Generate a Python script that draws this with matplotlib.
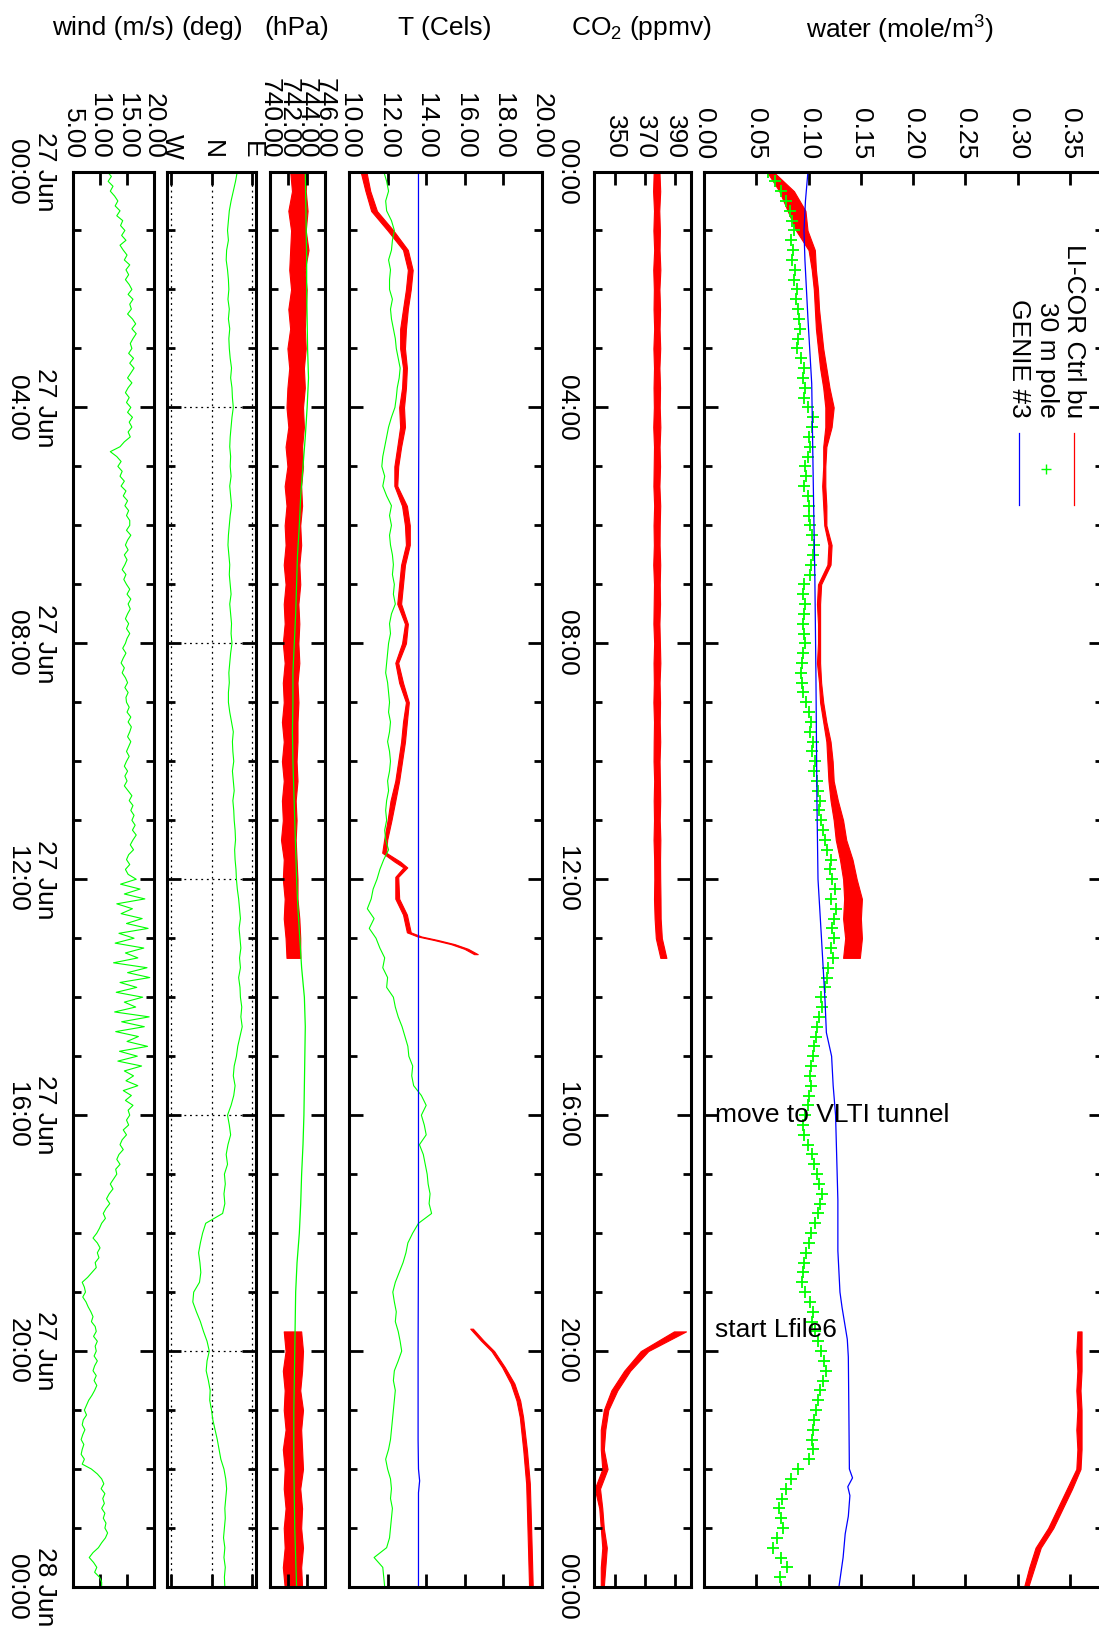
import numpy as np
import matplotlib
matplotlib.use('Agg')
import matplotlib.pyplot as plt
from matplotlib.ticker import FixedLocator, MultipleLocator

plt.rcParams['font.family'] = ['Liberation Sans', 'DejaVu Sans']
plt.rcParams['mathtext.default'] = 'regular'

# ------------------------------------------------------------------ data
# time axis in hours since 27 Jun 00:00
time_major = [0, 4, 8, 12, 16, 20, 24]
wind_time_labels = ['27 Jun\n00:00', '27 Jun\n04:00', '27 Jun\n08:00', '27 Jun\n12:00',
                    '27 Jun\n16:00', '27 Jun\n20:00', '28 Jun\n00:00']
co2_time_labels = ['00:00', '04:00', '08:00', '12:00', '16:00', '20:00', '00:00']

# value-axis ticks and labels
wind_ticks = [5, 10, 15, 20]
wind_ticklabels = ['5.00', '10.00', '15.00', '20.00']
deg_ticks = [270, 360, 450]
deg_ticklabels = ['W', 'N', 'E']
hpa_ticks = [740, 742, 744, 746]
hpa_ticklabels = ['740.00', '742.00', '744.00', '746.00']
temp_ticks = [10, 12, 14, 16, 18, 20]
temp_ticklabels = ['10.00', '12.00', '14.00', '16.00', '18.00', '20.00']
co2_ticks = [350, 370, 390]
co2_ticklabels = ['350', '370', '390']
water_ticks = [0.0, 0.05, 0.10, 0.15, 0.20, 0.25, 0.30, 0.35]
water_ticklabels = ['0.00', '0.05', '0.10', '0.15', '0.20', '0.25', '0.30', '0.35']

# sample times: 10-minute and 5-minute series, LI-COR segments
t10 = np.arange(145) / 6.0
t5 = np.arange(289) / 12.0
licor_t1 = np.arange(41) / 3.0                 # 00:00 .. 13:20
licor_t2 = np.arange(59, 73) / 3.0             # 19:40 .. 24:00

# ---- wind speed (m/s), 5-min
wind = [
    11.4, 12.2, 11.6, 12.5, 12.0, 12.8, 13.4, 12.9, 13.8, 13.2, 14.3, 13.9,
    14.7, 14.1, 14.9, 13.8, 14.4, 15.1, 14.6, 15.6, 14.9, 15.4, 14.8, 15.5,
    16.0, 15.3, 16.2, 15.6, 15.9, 15.2, 16.1, 16.7, 16.0, 16.8, 16.2, 15.7,
    16.0, 15.4, 16.3, 15.6, 16.4, 15.8, 15.2, 16.0, 15.3, 14.8, 15.5, 15.0,
    15.8, 15.2, 16.1, 15.5, 16.0, 15.3, 15.7, 14.6, 13.8, 12.0, 13.2, 14.0,
    13.4, 14.2, 13.8, 14.6, 14.0, 14.9, 14.4, 15.2, 14.7, 15.4, 15.0, 15.6,
    15.6, 15.0, 15.8, 15.2, 14.8, 15.3, 14.6, 15.1, 14.7, 14.2, 14.9, 14.5,
    15.0, 15.6, 15.1, 15.8, 15.3, 15.7, 15.2, 14.8, 15.4, 15.0, 15.6, 15.1,
    14.8, 14.3, 14.9, 14.4, 14.0, 14.6, 14.2, 14.8, 15.2, 14.7, 15.3, 14.9,
    15.0, 15.5, 15.1, 15.8, 15.3, 15.9, 15.6, 15.2, 15.8, 15.4, 15.0, 15.5,
    15.0, 14.6, 15.2, 14.7, 15.1, 14.6, 15.3, 16.0, 15.5, 16.2, 15.8, 16.4,
    16.0, 16.6, 16.1, 16.8, 16.2, 15.7, 16.3, 15.4, 15.0, 15.6, 14.8, 15.3,
    16.8, 13.9, 17.5, 14.6, 18.4, 13.2, 16.1, 14.0, 17.9, 15.0, 19.0, 13.6,
    16.4, 12.9, 18.2, 14.8, 17.1, 12.6, 18.8, 15.2, 19.3, 13.8, 16.9, 13.1,
    18.0, 14.6, 16.7, 12.8, 19.2, 14.1, 18.3, 13.0, 17.2, 15.1, 18.9, 13.7,
    17.0, 13.4, 17.8, 14.6, 16.3, 14.9, 17.1, 14.4, 15.9, 14.8, 16.2, 15.3,
    15.6, 15.0, 15.4, 14.4, 15.0, 14.2, 13.8, 14.4, 13.6, 13.2, 13.8, 13.0,
    13.2, 12.6, 12.0, 12.5, 11.8, 11.3, 11.9, 11.2, 10.7, 11.1, 10.4, 10.0,
    9.5, 8.8, 9.6, 10.1, 9.6, 9.9, 9.2, 9.4, 8.6, 7.8, 6.8, 7.2,
    7.4, 6.9, 7.5, 7.9, 8.4, 8.8, 8.5, 9.2, 9.4, 8.9, 9.6, 9.2,
    9.4, 9.0, 9.6, 9.1, 8.8, 9.4, 9.0, 9.5, 9.1, 8.6, 8.0, 7.6,
    7.2, 7.6, 7.0, 6.8, 7.3, 6.9, 6.6, 7.1, 6.8, 6.6, 7.2, 6.8,
    8.5, 9.6, 10.4, 10.8, 10.3, 11.0, 10.6, 10.9, 10.4, 11.0, 10.7, 11.2,
    11.0, 11.5, 11.1, 10.4, 9.8, 8.8, 8.1, 8.9, 9.5, 9.1, 10.0, 10.4,
    10.4]

# ---- wind direction (deg, N=360, E=450), 10-min
wind_dir = [
    418, 414, 409, 404, 400, 398,
    396, 398, 394, 393, 396, 398,
    399, 397, 400, 398, 401, 399,
    400, 402, 405, 403, 406, 407,
    409, 406, 404, 402, 401, 403,
    402, 404, 401, 403, 405, 402,
    400, 398, 397, 399, 401, 400,
    402, 404, 401, 403, 405, 404,
    406, 403, 401, 399, 400, 398,
    398, 401, 405, 409, 407, 408,
    410, 407, 409, 411, 408, 410,
    411, 413, 414, 412, 413, 415,
    416, 418, 421, 423, 425, 422,
    424, 426, 423, 425, 421, 424,
    425, 428, 426, 429, 424, 419,
    416, 411, 409, 413, 410, 404,
    396, 400, 403, 397, 393, 396,
    389, 391, 388, 390, 385, 347,
    340, 335, 331, 334, 336, 333,
    320, 318, 326, 335, 342, 350,
    355, 350, 348, 353, 357, 356,
    360, 363, 368, 373, 377, 381,
    388, 392, 394, 392, 390, 391,
    389, 387, 390, 388, 391, 389,
    390]

# ---- pressure (hPa): GENIE, 30-min
hpa_genie_t = np.arange(49) / 2.0
hpa_genie = [743.85, 743.9, 743.95, 744.0, 744.0, 744.05, 744.1, 744.2, 744.05, 743.85,
             743.6, 743.35, 743.2, 743.0, 742.9, 742.8, 742.65, 742.5, 742.5, 742.45,
             742.5, 742.6, 742.7, 742.8, 742.9, 743.05, 743.25, 743.45, 743.75, 743.85,
             743.8, 743.75, 743.7, 743.6, 743.45, 743.35, 743.2, 742.95, 742.8, 742.75,
             742.7, 742.65, 742.6, 742.6, 742.6, 742.65, 742.7, 742.8, 742.9]
# LI-COR pressure band (low / high envelope)
hpa_licor1_lo = [742.2, 742.4, 742.0, 742.3, 742.2, 742.1, 742.3, 742.0, 742.2, 741.9,
                 742.1, 741.9, 741.8, 742.0, 741.7, 741.9, 741.6, 741.8, 741.6, 741.7,
                 741.5, 741.7, 741.5, 741.6, 741.4, 741.6, 741.4, 741.5, 741.3, 741.5,
                 741.3, 741.5, 741.3, 741.4, 741.2, 741.5, 741.4, 741.6, 741.5, 741.7, 741.8]
hpa_licor1_hi = [744.0, 743.9, 744.1, 743.9, 744.2, 743.8, 744.0, 743.9, 743.8, 743.9,
                 743.7, 743.8, 743.6, 743.7, 743.5, 743.6, 743.4, 743.5, 743.3, 743.4,
                 743.2, 743.3, 743.1, 743.2, 743.1, 743.2, 743.0, 743.1, 743.0, 743.0,
                 742.9, 743.0, 742.8, 742.9, 742.8, 742.9, 743.0, 743.0, 743.2, 743.3, 743.3]
hpa_licor2_lo = [741.5, 741.7, 741.4, 741.6, 741.5, 741.7, 741.4, 741.6, 741.5, 741.7,
                 741.5, 741.6, 741.4, 741.6]
hpa_licor2_hi = [743.4, 743.6, 743.5, 743.3, 743.6, 743.4, 743.5, 743.6, 743.3, 743.5,
                 743.4, 743.6, 743.4, 743.5]

# ---- temperature (Cels)
temp_genie_t = [0, 2, 4, 6, 8, 10, 12, 14, 16, 18, 20, 21.5, 22.0, 22.2, 22.4, 23, 24]
temp_genie = [13.6, 13.6, 13.62, 13.6, 13.62, 13.6, 13.6, 13.6, 13.6, 13.6, 13.58,
              13.58, 13.6, 13.66, 13.6, 13.6, 13.6]
temp_pole = [
    11.80, 11.95, 12.05, 11.90, 11.95, 12.20,
    12.35, 12.25, 12.20, 12.05, 12.15, 12.10,
    12.10, 12.25, 12.15, 12.20, 12.30, 12.40,
    12.45, 12.55, 12.65, 12.60, 12.50, 12.45,
    12.38, 12.20, 12.05, 11.95, 11.85, 11.75,
    11.70, 11.85, 11.75, 11.95, 12.20, 12.10,
    12.20, 12.10, 12.15, 12.25, 12.30, 12.25,
    12.35, 12.30, 12.40, 12.20, 12.10, 12.15,
    12.05, 12.00, 11.95, 11.90, 12.00, 12.05,
    12.10, 12.05, 12.15, 12.10, 12.00, 12.10,
    12.15, 12.10, 12.00, 12.05, 11.95, 11.90,
    11.95, 11.85, 11.90, 12.05, 11.80, 11.60,
    11.45, 11.25, 11.15, 10.95, 11.30, 11.05,
    11.40, 11.60, 11.85, 11.75, 12.00, 11.95,
    12.30, 12.40, 12.55, 12.75, 12.90, 13.05,
    13.10, 13.30, 13.25, 13.35, 13.75, 14.00,
    13.75, 13.90, 14.00, 13.65, 13.85, 13.95,
    14.05, 14.10, 14.20, 14.15, 14.28, 13.60,
    13.30, 13.05, 12.95, 12.80, 12.60, 12.40,
    12.27, 12.35, 12.45, 12.40, 12.55, 12.65,
    12.73, 12.55, 12.35, 12.30, 12.40, 12.35,
    12.30, 12.25, 12.20, 12.15, 12.05, 11.90,
    12.00, 12.15, 12.20, 12.15, 12.25, 12.20,
    12.15, 12.10, 11.95, 11.30, 11.75, 11.80,
    11.85]
temp_licor1_t = [0.0, 0.33, 0.67, 1.0, 1.33, 1.67, 2.0, 2.33, 2.67, 3.0, 3.33, 3.67, 4.0,
                 4.33, 4.67, 5.0, 5.33, 5.67, 6.0, 6.33, 6.67, 7.0, 7.33, 7.67, 8.0, 8.33,
                 8.67, 9.0, 9.33, 9.67, 10.0, 10.33, 10.67, 11.0, 11.33, 11.55, 11.7, 11.8,
                 11.96, 12.33, 12.6, 12.9, 12.97, 13.03, 13.1, 13.18, 13.27]
temp_licor1_lo = [10.6, 10.85, 11.15, 12.0, 12.8, 13.05, 12.95, 12.8, 12.65, 12.65, 12.8,
                  12.75, 12.6, 12.65, 12.5, 12.35, 12.35, 12.75, 12.9, 12.95, 12.7, 12.6,
                  12.5, 12.9, 12.75, 12.4, 12.6, 12.95, 12.8, 12.7, 12.55, 12.4, 12.15,
                  12.0, 11.82, 11.72, 12.35, 12.82, 12.4, 12.4, 12.8, 13.0, 13.55, 14.4,
                  15.28, 15.98, 16.48]
temp_licor1_hi = [10.9, 11.1, 11.45, 12.3, 13.05, 13.3, 13.2, 13.05, 12.95, 12.9, 13.0,
                  12.95, 12.85, 12.9, 12.7, 12.55, 12.5, 13.0, 13.15, 13.15, 12.9, 12.8,
                  12.7, 13.05, 12.95, 12.55, 12.8, 13.1, 13.0, 12.9, 12.75, 12.6, 12.4,
                  12.2, 11.98, 11.92, 12.65, 13.02, 12.55, 12.6, 13.0, 13.2, 13.75, 14.6,
                  15.47, 16.17, 16.67]
temp_licor2_t = [19.62, 19.82, 20.0, 20.27, 20.55, 20.84, 21.12, 21.68, 22.25, 22.81, 23.4, 24.0]
temp_licor2_lo = [16.28, 16.83, 17.38, 17.93, 18.38, 18.68, 18.85, 19.03, 19.18, 19.23, 19.28, 19.33]
temp_licor2_hi = [16.42, 16.97, 17.52, 18.07, 18.57, 18.87, 19.02, 19.22, 19.37, 19.42, 19.47, 19.52]

# ---- CO2 (ppmv), LI-COR band
co2_licor1_lo = [375.6, 375.2, 375.8, 375.4, 375.9, 375.3, 375.7, 375.5, 375.9, 375.4,
                 375.8, 375.5, 375.7, 375.3, 375.8, 375.6, 375.4, 375.9, 375.5, 375.7,
                 375.3, 375.8, 375.6, 375.4, 375.9, 375.5, 375.7, 375.4, 375.8, 375.6,
                 375.5, 375.9, 375.6, 375.8, 375.5, 375.9, 376.0, 375.8, 376.2, 377.0, 380.0]
co2_licor1_hi = [379.4, 379.9, 379.3, 379.7, 379.5, 380.0, 379.4, 379.8, 379.5, 379.9,
                 379.4, 379.8, 379.6, 380.0, 379.5, 379.8, 379.4, 379.9, 379.6, 379.5,
                 379.9, 379.6, 379.8, 379.4, 379.7, 380.0, 379.5, 379.8, 379.6, 379.9,
                 379.5, 379.7, 379.9, 379.6, 380.0, 379.8, 379.9, 380.1, 380.2, 381.0, 384.0]
co2_licor2_lo = [389.0, 367.0, 356.0, 347.5, 342.5, 340.5, 340.5, 341.5, 336.5, 339.5,
                 340.5, 341.5, 340.5, 340.5]
co2_licor2_hi = [397.0, 372.0, 360.0, 351.5, 345.5, 343.5, 342.5, 345.0, 340.0, 341.5,
                 342.5, 344.5, 343.5, 342.5]

# ---- water (mole/m^3)
water_genie_t = [0, 0.5, 1.0, 1.5, 2.5, 3.6, 5.3, 6.9, 8.5, 10.7, 12.0, 12.9, 14.05, 14.6,
                 15.0, 15.5, 16.0, 17.44, 18.3, 19.0, 19.26, 19.8, 20.1, 21.0, 22.0, 22.15,
                 22.3, 22.45, 22.8, 23.1, 23.5, 24.0]
water_genie = [0.0994, 0.097, 0.0956, 0.0965, 0.0994, 0.103, 0.1045, 0.106, 0.107, 0.108,
               0.109, 0.112, 0.1157, 0.117, 0.122, 0.1235, 0.1258, 0.128, 0.128, 0.130,
               0.132, 0.137, 0.138, 0.1385, 0.139, 0.142, 0.1375, 0.1395, 0.138, 0.135,
               0.133, 0.129]
water_pole = [
    0.061, 0.068, 0.074, 0.078, 0.082, 0.084,
    0.086, 0.083, 0.085, 0.084, 0.087, 0.086,
    0.089, 0.088, 0.090, 0.091, 0.092, 0.090,
    0.089, 0.093, 0.096, 0.095, 0.097, 0.096,
    0.099, 0.104, 0.103, 0.100, 0.101, 0.099,
    0.097, 0.098, 0.096, 0.099, 0.100, 0.100,
    0.101, 0.103, 0.105, 0.104, 0.102, 0.101,
    0.096, 0.095, 0.097, 0.096, 0.095, 0.096,
    0.097, 0.095, 0.094, 0.093, 0.094, 0.095,
    0.098, 0.100, 0.102, 0.101, 0.104, 0.103,
    0.106, 0.105, 0.108, 0.109, 0.111, 0.110,
    0.112, 0.114, 0.116, 0.118, 0.121, 0.120,
    0.122, 0.125, 0.121, 0.126, 0.124, 0.122,
    0.124, 0.121, 0.123, 0.119, 0.118, 0.116,
    0.112, 0.113, 0.110, 0.108, 0.107, 0.105,
    0.104, 0.102, 0.101, 0.102, 0.100, 0.099,
    0.097, 0.095, 0.096, 0.099, 0.103, 0.105,
    0.108, 0.110, 0.113, 0.111, 0.109, 0.106,
    0.102, 0.100, 0.098, 0.096, 0.095, 0.094,
    0.097, 0.101, 0.104, 0.103, 0.106, 0.109,
    0.112, 0.115, 0.117, 0.114, 0.111, 0.109,
    0.107, 0.105, 0.104, 0.103, 0.104, 0.100,
    0.090, 0.083, 0.078, 0.075, 0.072, 0.074,
    0.076, 0.070, 0.066, 0.074, 0.079, 0.073,
    0.074]
water_licor1_lo = [0.060, 0.072, 0.080, 0.088, 0.100, 0.103, 0.105, 0.106, 0.107, 0.109,
                   0.111, 0.114, 0.116, 0.116, 0.114, 0.114, 0.113, 0.114, 0.115, 0.119,
                   0.118, 0.109, 0.108, 0.109, 0.109, 0.108, 0.110, 0.111, 0.114, 0.117,
                   0.118, 0.119, 0.121, 0.124, 0.126, 0.130, 0.133, 0.134, 0.133, 0.135, 0.133]
water_licor1_hi = [0.066, 0.086, 0.097, 0.099, 0.106, 0.107, 0.109, 0.110, 0.112, 0.114,
                   0.117, 0.120, 0.124, 0.122, 0.117, 0.116, 0.116, 0.117, 0.117, 0.122,
                   0.121, 0.112, 0.111, 0.111, 0.111, 0.111, 0.112, 0.114, 0.117, 0.121,
                   0.123, 0.124, 0.128, 0.133, 0.136, 0.142, 0.146, 0.151, 0.150, 0.151, 0.149]
water_licor2_lo = [0.357, 0.356, 0.357, 0.356, 0.357, 0.356, 0.357, 0.356, 0.347, 0.338,
                   0.329, 0.317, 0.311, 0.306]
water_licor2_hi = [0.361, 0.361, 0.361, 0.360, 0.361, 0.361, 0.361, 0.360, 0.352, 0.343,
                   0.334, 0.322, 0.316, 0.310]

legend_labels = ['LI-COR Ctrl bu', '30 m pole', 'GENIE #3']
annotations = [(16.0, 'move to VLTI tunnel'), (19.65, 'start Lfile6')]

# ------------------------------------------------------------------ figure
W, H = 1099, 1627
fig = plt.figure(figsize=(W / 100, H / 100), dpi=100)
FS = 19
TOP, BOT = 171.5, 1587.0
RED, GREEN, BLUE = '#ff0000', '#00ff00', '#0000ff'


def fx(x):
    return x / W


def fy(y):
    return 1 - y / H


def panel(x0, x1, xlim, ticks, ticklabels):
    ax = fig.add_axes([fx(x0), fy(BOT), (x1 - x0) / W, (BOT - TOP) / H])
    ax.set_xlim(*xlim)
    ax.set_ylim(24, 0)
    ax.yaxis.set_major_locator(FixedLocator(time_major))
    ax.yaxis.set_minor_locator(MultipleLocator(1))
    ax.xaxis.set_major_locator(FixedLocator(ticks))
    ax.set_xticklabels(ticklabels, rotation=-90, fontsize=FS)
    ax.tick_params(axis='x', which='both', direction='in', top=True, bottom=True,
                   labeltop=True, labelbottom=False, length=9.5, width=2.0, pad=9)
    ax.tick_params(axis='y', which='major', direction='in', left=True, right=True,
                   labelleft=False, length=10, width=2.0)
    ax.tick_params(axis='y', which='minor', direction='in', left=True, right=True,
                   length=5.5, width=2.0)
    for s in ax.spines.values():
        s.set_linewidth(2.2)
    return ax


# wind speed
ax_w = panel(72.5, 153.5, (5, 20), wind_ticks, wind_ticklabels)
ax_w.plot(wind, t5, color=GREEN, lw=0.8)
ax_w.set_yticklabels(wind_time_labels, rotation=-90, fontsize=FS, va='center',
                     ha='right', multialignment='center')
ax_w.tick_params(axis='y', which='major', labelleft=True, pad=11)

# wind direction
ax_d = panel(167, 256, (260, 460), deg_ticks, deg_ticklabels)
ax_d.grid(True, which='major', linestyle=(0, (1.5, 3)), color='black', lw=0.9)
ax_d.plot(wind_dir, t10, color=GREEN, lw=0.8)

# pressure
ax_p = panel(270, 325, (740, 746), hpa_ticks, hpa_ticklabels)
ax_p.fill_betweenx(licor_t1, hpa_licor1_lo, hpa_licor1_hi, color=RED, lw=0.8)
ax_p.fill_betweenx(licor_t2, hpa_licor2_lo, hpa_licor2_hi, color=RED, lw=0.8)
ax_p.plot(hpa_genie, hpa_genie_t, color=GREEN, lw=0.9)

# temperature
ax_t = panel(349, 542, (10, 20), temp_ticks, temp_ticklabels)
ax_t.fill_betweenx(temp_licor1_t, temp_licor1_lo, temp_licor1_hi, color=RED, lw=0.8)
ax_t.fill_betweenx(temp_licor2_t, temp_licor2_lo, temp_licor2_hi, color=RED, lw=0.8)
ax_t.plot(temp_pole, t10, color=GREEN, lw=0.8)
ax_t.plot(temp_genie, temp_genie_t, color=BLUE, lw=0.9)

# CO2
ax_c = panel(594, 690.5, (336, 400), co2_ticks, co2_ticklabels)
ax_c.fill_betweenx(licor_t1, co2_licor1_lo, co2_licor1_hi, color=RED, lw=0.8)
ax_c.fill_betweenx(licor_t2, co2_licor2_lo, co2_licor2_hi, color=RED, lw=0.8)
ax_c.set_yticklabels(co2_time_labels, rotation=-90, fontsize=FS, va='center', ha='right')
ax_c.tick_params(axis='y', which='major', labelleft=True, pad=11)

# water
ax_h = panel(704, 1103, (0, 0.3815), water_ticks, water_ticklabels)
ax_h.fill_betweenx(licor_t1, water_licor1_lo, water_licor1_hi, color=RED, lw=0.8)
ax_h.fill_betweenx(licor_t2, water_licor2_lo, water_licor2_hi, color=RED, lw=0.8)
ax_h.plot(water_pole, t10, linestyle='none', marker='+', ms=8, mew=1.3, color=GREEN)
ax_h.plot(water_genie, water_genie_t, color=BLUE, lw=0.9)
for t_ann, txt in annotations:
    ax_h.text(0.0105, t_ann, txt, ha='left', va='center', fontsize=FS)

# legend (rotated, drawn in figure pixels)
leg_x = [1074, 1047, 1019]
for xx, lab in zip(leg_x, legend_labels):
    fig.text(fx(xx), fy(418), lab, rotation=-90, ha='center', va='bottom', fontsize=FS)
fig.add_artist(plt.Line2D([fx(1074), fx(1074)], [fy(433), fy(505)], color=RED, lw=0.9))
fig.add_artist(plt.Line2D([fx(1046)], [fy(469)], color=GREEN, marker='+', ms=7, mew=1.0))
fig.add_artist(plt.Line2D([fx(1019), fx(1019)], [fy(433), fy(505)], color=BLUE, lw=0.9))

# panel titles
titles = [(113, 28, 'wind (m/s)'), (212, 28, '(deg)'), (297, 28, '(hPa)'),
          (445, 28, 'T (Cels)'), (641, 28, 'CO$_2$ (ppmv)'), (900, 30, 'water (mole/m$^3$)')]
for xx, yy, txt in titles:
    fig.text(fx(xx), fy(yy), txt, ha='center', va='center', fontsize=FS)

fig.savefig('out.png', dpi=100)
